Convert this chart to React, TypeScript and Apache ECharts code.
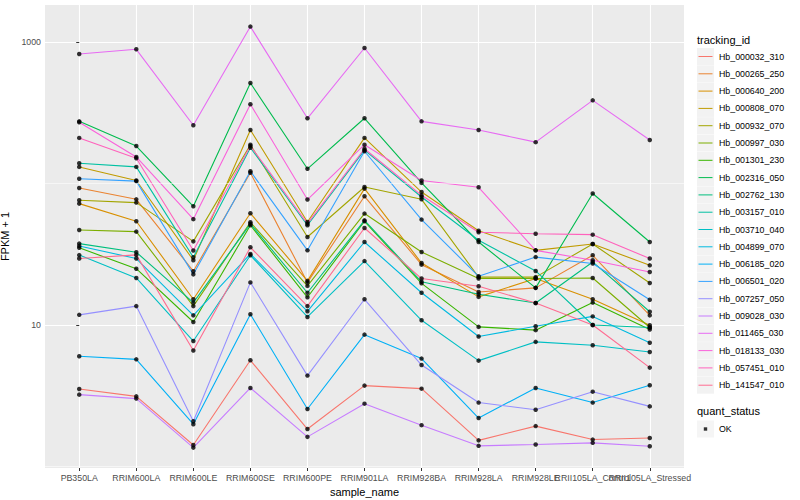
import React, { useEffect, useRef } from "react";
import * as echarts from "echarts";

const categories = [
  "PB350LA", "RRIM600LA", "RRIM600LE", "RRIM600SE", "RRIM600PE", "RRIM901LA",
  "RRIM928BA", "RRIM928LA", "RRIM928LE", "RRII105LA_Control", "RRII105LA_Stressed",
];

const trackingIds = [
  "Hb_000032_310", "Hb_000265_250", "Hb_000640_200", "Hb_000808_070", "Hb_000932_070",
  "Hb_000997_030", "Hb_001301_230", "Hb_002316_050", "Hb_002762_130", "Hb_003157_010",
  "Hb_003710_040", "Hb_004899_070", "Hb_006185_020", "Hb_006501_020", "Hb_007257_050",
  "Hb_009028_030", "Hb_011465_030", "Hb_018133_030", "Hb_057451_010", "Hb_141547_010",
];

const palette = [
  "#F8766D", "#EA8331", "#D89000", "#C09B00", "#A3A500", "#7CAE00", "#39B600", "#00BB4E",
  "#00BF7D", "#00C1A3", "#00BFC4", "#00BAE0", "#00B0F6", "#35A2FF", "#9590FF", "#C77CFF",
  "#E76BF3", "#FA62DB", "#FF62BC", "#FF6C91",
];

// FPKM + 1, one value per sample (categories order)
const Hb_000032_310 = [3.53, 3.13, 1.42, 5.63, 1.84, 3.73, 3.55, 1.53, 1.93, 1.55, 1.59];
const Hb_000265_250 = [92.9, 77.3, 24, 119, 20, 81.2, 26.7, 17.1, 18.3, 31.1, 11.7];
const Hb_000640_200 = [72.1, 54.1, 15.2, 61.6, 20.5, 92, 27.4, 15.8, 21.3, 15.2, 9.95];
const Hb_000808_070 = [131, 105, 28.7, 239, 53.4, 210, 87, 46.4, 33.7, 37.4, 26.4];
const Hb_000932_070 = [76.1, 73.3, 39, 188, 41.9, 94.5, 77.3, 21.8, 21.8, 37.4, 19.8];
const Hb_000997_030 = [46.9, 45.7, 13.6, 53.2, 18.9, 61.3, 32.8, 21.3, 21.3, 21.5, 9.6];
const Hb_001301_230 = [35.1, 25, 10.5, 50.7, 15.7, 54.1, 19.7, 9.7, 9.2, 14.4, 9.3];
const Hb_002316_050 = [275, 184, 69, 513, 127, 289, 101, 38.6, 18.3, 85, 38.6];
const Hb_002762_130 = [37.6, 32.7, 14.4, 51.9, 16.9, 54.9, 20.2, 16.5, 14.3, 27.9, 12.4];
const Hb_003157_010 = [139, 131, 30.1, 179, 50.7, 172, 80.3, 39.7, 24.1, 10.0, 9.6];
const Hb_003710_040 = [31.2, 21.5, 7.7, 31.1, 11.4, 28.3, 10.8, 5.6, 7.6, 7.2, 6.45];
const Hb_004899_070 = [36.2, 29.5, 11.7, 31.8, 12.5, 38.6, 16.9, 8.3, 9.8, 11.5, 7.5];
const Hb_006185_020 = [6.01, 5.72, 1.99, 11.9, 2.55, 8.55, 5.79, 2.2, 3.59, 2.83, 3.75];
const Hb_006501_020 = [108, 104, 22.8, 122, 33.7, 169, 55.6, 22.1, 30.2, 27.2, 15.1];
const Hb_007257_050 = [11.8, 13.6, 2.09, 20, 4.39, 15.2, 5.21, 2.83, 2.52, 3.38, 2.66];
const Hb_009028_030 = [3.22, 3.02, 1.36, 3.59, 1.62, 2.78, 1.96, 1.4, 1.43, 1.47, 1.39];
const Hb_011465_030 = [822, 888, 258, 1285, 289, 907, 275, 239, 196, 387, 203];
const Hb_018133_030 = [271, 154, 56, 363, 77, 188, 105, 94, 33.7, 28.7, 23.7];
const Hb_057451_010 = [210, 151, 33.6, 184, 52, 176, 82.5, 45.2, 44.2, 43.5, 29.5];
const Hb_141547_010 = [29.5, 31.3, 6.6, 35.4, 13.6, 48.5, 21.3, 18.8, 14.3, 10, 5.0];

const seriesValues = [
  Hb_000032_310, Hb_000265_250, Hb_000640_200, Hb_000808_070, Hb_000932_070,
  Hb_000997_030, Hb_001301_230, Hb_002316_050, Hb_002762_130, Hb_003157_010,
  Hb_003710_040, Hb_004899_070, Hb_006185_020, Hb_006501_020, Hb_007257_050,
  Hb_009028_030, Hb_011465_030, Hb_018133_030, Hb_057451_010, Hb_141547_010,
];

const yTickValues = [10, 1000];
const yMinorGrid = [1, 100];
const yRange = [0.976, 1826];
const quantStatus = ["OK"];

export default function App() {
  const ref = useRef<HTMLDivElement>(null);

  useEffect(() => {
    const chart = echarts.init(ref.current as HTMLDivElement, null, { renderer: "svg" });
    const font = "'Liberation Sans', Arial, Helvetica, sans-serif";
    const catIdx = categories.map((_, i) => i);
    const evenIdx = catIdx.filter((i) => i % 2 === 0);
    const oddIdx = catIdx.filter((i) => i % 2 === 1);

    const lineSeries = trackingIds.map((id, k) => ({
      name: id,
      type: "line",
      xAxisIndex: 0,
      data: seriesValues[k].map((v, i) => [i, v]),
      symbol: "none",
      showSymbol: false,
      color: palette[k],
      lineStyle: { width: 1.1, color: palette[k] },
      z: 3,
      silent: true,
    }));

    const okPoints = seriesValues.flatMap((vals) => vals.map((v, i) => [i, v]));

    const legendBase = {
      orient: "vertical",
      left: 697,
      top: 48,
      padding: 0,
      itemWidth: 17,
      itemHeight: 17,
      itemGap: 0.3,
      selectedMode: false,
      data: trackingIds,
    };

    const xLabelStyle = {
      margin: 5, color: "#4D4D4D", fontSize: 8.8, fontFamily: font,
      hideOverlap: false, interval: 0,
      formatter: (v: number) => categories[Math.round(v)] ?? "",
    };

    const option = {
      animation: false,
      backgroundColor: "#FFFFFF",
      textStyle: { fontFamily: font },
      title: [
        {
          text: "tracking_id", left: 697, top: 34, padding: 0,
          textStyle: { fontSize: 11, fontWeight: "normal", color: "#000", fontFamily: font },
        },
        {
          text: "quant_status", left: 697, top: 405, padding: 0,
          textStyle: { fontSize: 11, fontWeight: "normal", color: "#000", fontFamily: font },
        },
      ],
      legend: [
        {
          ...legendBase,
          z: 4,
          icon: "rect",
          itemStyle: { color: "#F2F2F2", borderWidth: 0, borderColor: "#F2F2F2" },
          textStyle: { color: "rgba(0,0,0,0)", fontSize: 8.8, fontFamily: font },
        },
        {
          ...legendBase,
          z: 5,
          icon: "path://M0,0M17,17M1.5,8H15.5V9H1.5Z",
          textStyle: { color: "#000", fontSize: 8.8, fontFamily: font },
        },
        {
          orient: "vertical", left: 697, top: 420.5, padding: 0, itemWidth: 17, itemHeight: 17,
          selectedMode: false, data: quantStatus, z: 4, icon: "rect",
          itemStyle: { color: "#F2F2F2", borderWidth: 0, borderColor: "#F2F2F2" },
          textStyle: { color: "rgba(0,0,0,0)", fontSize: 8.8, fontFamily: font },
        },
        {
          orient: "vertical", left: 697, top: 420.5, padding: 0, itemWidth: 17, itemHeight: 17,
          selectedMode: false, data: quantStatus, z: 5,
          icon: "path://M0,0M17,17M6.8,6.8H10.2V10.2H6.8Z",
          textStyle: { color: "#000", fontSize: 8.8, fontFamily: font },
        },
      ],
      grid: {
        left: 45, right: 116, top: 5, bottom: 32,
        show: true, backgroundColor: "#EBEBEB", borderWidth: 0,
        containLabel: false, outerBoundsMode: "none",
      },
      xAxis: [
        {
          type: "value",
          position: "bottom",
          min: -0.6,
          max: 10.6,
          name: "sample_name",
          nameLocation: "middle",
          nameGap: 16,
          nameTextStyle: { color: "#000", fontSize: 11, fontFamily: font },
          axisLine: { show: false },
          axisTick: { show: true, customValues: catIdx, length: 3, lineStyle: { color: "#333333", width: 1 } },
          axisLabel: { ...xLabelStyle, customValues: evenIdx },
          splitLine: { show: true, lineStyle: { color: "#FFFFFF", width: 1.1 } },
        },
        {
          type: "value",
          position: "bottom",
          offset: 0,
          min: -0.6,
          max: 10.6,
          axisLine: { show: false },
          axisTick: { show: false, customValues: oddIdx },
          axisLabel: { ...xLabelStyle, customValues: oddIdx },
          splitLine: { show: false },
        },
      ],
      yAxis: {
        type: "log",
        logBase: 10,
        min: yRange[0],
        max: yRange[1],
        name: "FPKM + 1",
        nameLocation: "middle",
        nameGap: 28,
        nameTextStyle: { color: "#000", fontSize: 11, fontFamily: font },
        axisLine: { show: false },
        axisTick: { show: true, customValues: yTickValues, length: 3, lineStyle: { color: "#333333", width: 1 } },
        axisLabel: {
          customValues: yTickValues, margin: 4, color: "#4D4D4D", fontSize: 8.8, fontFamily: font,
          formatter: (v: number) => String(Math.round(v)),
        },
        splitLine: { show: true, lineStyle: { color: "#FFFFFF", width: 1.1 } },
      },
      series: [
        {
          name: "gridMinor",
          type: "line",
          xAxisIndex: 0,
          data: [],
          z: 1,
          silent: true,
          markLine: {
            silent: true,
            symbol: ["none", "none"],
            label: { show: false },
            lineStyle: { color: "#FFFFFF", width: 0.55, type: "solid" },
            data: yMinorGrid.map((v) => ({ yAxis: v })),
          },
        },
        ...lineSeries,
        {
          name: "OK",
          type: "scatter",
          xAxisIndex: 0,
          data: okPoints,
          symbol: "circle",
          symbolSize: 4.5,
          color: "#000000",
          itemStyle: { color: "#000000" },
          z: 6,
          silent: true,
        },
      ],
    };

    chart.setOption(option as any);
    return () => chart.dispose();
  }, []);

  return <div ref={ref} style={{ position: "fixed", left: 0, top: 0, width: 800, height: 500 }} />;
}
